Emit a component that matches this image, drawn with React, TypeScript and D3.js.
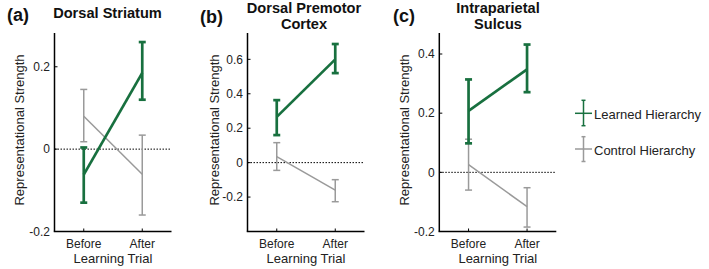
import React from "react";
import * as d3 from "d3";

// ---------- data ----------
const categories = ["Before", "After"];
const panelLetters = ["(a)", "(b)", "(c)"];
const panelTitles = [["Dorsal Striatum"], ["Dorsal Premotor", "Cortex"], ["Intraparietal", "Sulcus"]];

const learnedMean = [[-0.062, 0.185], [0.266, 0.6], [0.208, 0.348]];
const learnedLow = [[-0.13, 0.12], [0.16, 0.52], [0.098, 0.271]];
const learnedHigh = [[0.004, 0.26], [0.363, 0.689], [0.314, 0.432]];

const controlMean = [[0.08, -0.061], [0.035, -0.16], [0.026, -0.116]];
const controlLow = [[0.018, -0.16], [-0.045, -0.227], [-0.06, -0.185]];
const controlHigh = [[0.145, 0.034], [0.116, -0.099], [0.112, -0.052]];

const yDomains = [[-0.2, 0.282], [-0.4, 0.753], [-0.2, 0.471]];
const yTicks = [[-0.2, 0, 0.2], [-0.2, 0, 0.2, 0.4, 0.6], [-0.2, 0, 0.2, 0.4]];

const seriesNames = ["Learned Hierarchy", "Control Hierarchy"];
const xLabel = "Learning Trial";
const yLabel = "Representational Strength";

// ---------- layout / style ----------
const W = 709;
const H = 269;
const FONT = "'Liberation Sans', Arial, Helvetica, sans-serif";
const GREEN = "#18703f";
const GRAY = "#9a9a9a";
const panelLeft = [54.5, 247.5, 439.3];
const panelWidth = 117;
const plotTop = 33;
const plotBottom = 231.5;
const yLabelX = [24.3, 219, 408.5];
const letterPos = [[7, 21], [200, 23], [393, 22]];
const titleCenter = [107.5, 304, 498];
const titleBaselines = [[18.3], [13, 28.5], [13, 28.5]];

const fmt = (v: number) => (v === 0 ? "0" : String(v));

function ErrorSeries({ x, y, mean, low, high, color, width, cap }: any) {
  const line = d3
    .line<number>()
    .x((_, j) => x(j + 1))
    .y((d) => y(d));
  return (
    <g>
      {mean.map((_: number, j: number) => {
        const cx = x(j + 1);
        return (
          <g key={j} stroke={color} strokeWidth={width} fill="none">
            <line x1={cx} x2={cx} y1={y(low[j])} y2={y(high[j])} />
            <line x1={cx - cap / 2} x2={cx + cap / 2} y1={y(low[j])} y2={y(low[j])} />
            <line x1={cx - cap / 2} x2={cx + cap / 2} y1={y(high[j])} y2={y(high[j])} />
          </g>
        );
      })}
      <path d={line(mean) || ""} stroke={color} strokeWidth={width} fill="none" />
    </g>
  );
}

function Panel({ i }: { i: number }) {
  const left = panelLeft[i];
  const right = left + panelWidth;
  const x = d3.scaleLinear().domain([0.5, 2.5]).range([left, right]);
  const y = d3.scaleLinear().domain(yDomains[i]).range([plotBottom, plotTop]);
  const cx = (left + right) / 2;
  return (
    <g>
      {/* zero line */}
      <line x1={left} x2={right} y1={y(0)} y2={y(0)} stroke="#000" strokeWidth={1} strokeDasharray="1.5,1.5" />
      <ErrorSeries x={x} y={y} mean={controlMean[i]} low={controlLow[i]} high={controlHigh[i]} color={GRAY} width={1.5} cap={7} />
      <ErrorSeries x={x} y={y} mean={learnedMean[i]} low={learnedLow[i]} high={learnedHigh[i]} color={GREEN} width={2.7} cap={7} />
      {/* axes */}
      <line x1={left} x2={left} y1={plotTop} y2={plotBottom} stroke="#000" strokeWidth={1.5} />
      <line x1={left - 0.75} x2={right} y1={plotBottom} y2={plotBottom} stroke="#000" strokeWidth={1.5} />
      {yTicks[i].map((t) => (
        <g key={t}>
          <line x1={left} x2={left + 3} y1={y(t)} y2={y(t)} stroke="#000" strokeWidth={1} />
          <text x={left - 4.5} y={y(t)} dy="0.35em" textAnchor="end" fontSize={12} fontFamily={FONT} fill="#222">
            {fmt(t)}
          </text>
        </g>
      ))}
      {categories.map((c, j) => (
        <g key={c}>
          <line x1={x(j + 1)} x2={x(j + 1)} y1={plotBottom} y2={plotBottom - 3} stroke="#000" strokeWidth={1} />
          <text x={x(j + 1)} y={248} textAnchor="middle" fontSize={12} fontFamily={FONT} fill="#222">
            {c}
          </text>
        </g>
      ))}
      <text x={cx} y={263.3} textAnchor="middle" fontSize={13} fontFamily={FONT} fill="#222">
        {xLabel}
      </text>
      <text
        transform={`translate(${yLabelX[i]},130) rotate(-90)`}
        textAnchor="middle"
        fontSize={13}
        fontFamily={FONT}
        fill="#222"
      >
        {yLabel}
      </text>
      {/* titles */}
      <text x={letterPos[i][0]} y={letterPos[i][1]} fontSize={18} fontWeight="bold" fontFamily={FONT} fill="#111">
        {panelLetters[i]}
      </text>
      {panelTitles[i].map((t, k) => (
        <text key={k} x={titleCenter[i]} y={titleBaselines[i][k]} textAnchor="middle" fontSize={14.6} fontWeight="bold" fontFamily={FONT} fill="#111">
          {t}
        </text>
      ))}
    </g>
  );
}

function Legend() {
  const items = [
    { name: seriesNames[0], color: GREEN, cy: 113.3, top: 100.3, bot: 125.7, ty: 119 },
    { name: seriesNames[1], color: GRAY, cy: 149, top: 136.7, bot: 161.5, ty: 155 },
  ];
  return (
    <g>
      {items.map((it) => (
        <g key={it.name}>
          <g stroke={it.color} strokeWidth={1.5}>
            <line x1={575} x2={592} y1={it.cy} y2={it.cy} />
            <line x1={583.5} x2={583.5} y1={it.top} y2={it.bot} />
            <line x1={581.5} x2={585.5} y1={it.top} y2={it.top} />
            <line x1={581.5} x2={585.5} y1={it.bot} y2={it.bot} />
          </g>
          <text x={594} y={it.ty} fontSize={13} fontFamily={FONT} fill="#222">
            {it.name}
          </text>
        </g>
      ))}
    </g>
  );
}

export default function App() {
  return (
    <svg
      width={W}
      height={H}
      viewBox={`0 0 ${W} ${H}`}
      style={{ position: "absolute", left: 0, top: 0, background: "#fff" }}
    >
      <rect width={W} height={H} fill="#fff" />
      {[0, 1, 2].map((i) => (
        <Panel key={i} i={i} />
      ))}
      <Legend />
    </svg>
  );
}
